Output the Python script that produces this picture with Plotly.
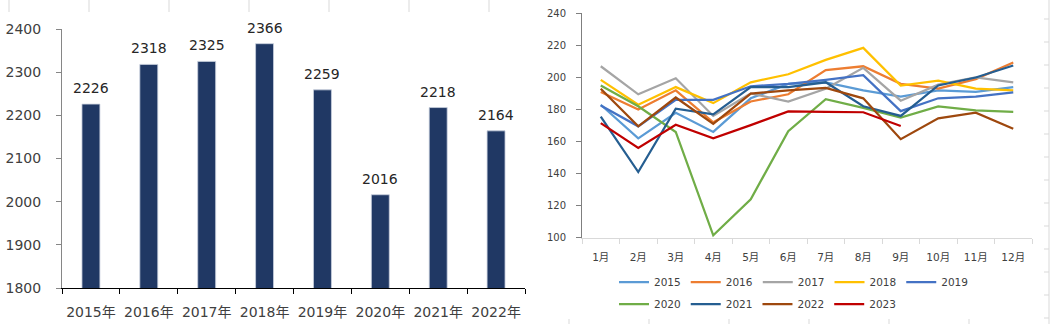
import plotly.graph_objects as go

W, H = 1051, 324

# ---------------- data ----------------
years = ["2015年", "2016年", "2017年", "2018年", "2019年", "2020年", "2021年", "2022年"]
annual = [2226, 2318, 2325, 2366, 2259, 2016, 2218, 2164]

months = ["1月", "2月", "3月", "4月", "5月", "6月", "7月", "8月", "9月", "10月", "11月", "12月"]
m2015 = [183, 162, 178, 166, 187, 196, 197, 192, 188, 192, 191, 194]
m2016 = [191, 180, 192, 172, 185, 189.5, 204.6, 207, 196, 193, 199, 209.4]
m2017 = [207, 189.5, 199.5, 176, 190, 185, 193, 206, 185.5, 195.5, 200, 197]
m2018 = [198.5, 183, 194, 184, 197, 202, 211, 218.5, 195, 198, 193, 192]
m2019 = [182.5, 169.5, 186, 186, 194.5, 196, 198.5, 201.5, 179, 187, 188, 190.7]
m2020 = [195, 182, 166, 101.5, 124, 166.5, 186.5, 181, 175, 182, 179.5, 178.6]
m2021 = [175.5, 141, 180.5, 177, 194, 194, 197, 182, 176, 195, 200, 207.5]
m2022 = [193, 169.5, 187.5, 171, 190, 192, 193.5, 187, 161.5, 174.5, 178, 168]
m2023 = [171.5, 156, 170.5, 162, 170.3, 178.8, 178.6, 178.3, 169.7]

series_names = ["2015", "2016", "2017", "2018", "2019", "2020", "2021", "2022", "2023"]
series_values = [m2015, m2016, m2017, m2018, m2019, m2020, m2021, m2022, m2023]
series_colors = ["#5B9BD5", "#ED7D31", "#A5A5A5", "#FFC000", "#4472C4",
                 "#70AD47", "#255E91", "#9E480E", "#C00000"]
series_legend = ["legend"] * 5 + ["legend2"] * 4

FONT = "DejaVu Sans, Noto Sans CJK SC, sans-serif"
TICK_COL = "#404040"


def px_x(p):
    return p / W


def px_y(p):
    return 1 - p / H


fig = go.Figure()

# ---------------- left: bars ----------------
fig.add_trace(go.Bar(
    x=years, y=annual, xaxis="x", yaxis="y",
    marker=dict(color="#203864", line=dict(color="#C8CFDD", width=0.8)),
    width=0.31, showlegend=False, hoverinfo="x+y",
))

annotations = []
for cat, val in zip(years, annual):
    annotations.append(dict(
        x=cat, y=val, xref="x", yref="y", text=str(val), showarrow=False,
        yanchor="bottom", yshift=6,
        font=dict(family=FONT, size=14, color="#262626"),
    ))

# ---------------- right: lines ----------------
for name, vals, col, lg in zip(series_names, series_values, series_colors, series_legend):
    fig.add_trace(go.Scatter(
        x=months[:len(vals)], y=vals, name=name, mode="lines",
        line=dict(color=col, width=2.25), xaxis="x2", yaxis="y2", legend=lg,
    ))

# ---------------- faint sheet grid artefacts ----------------
shapes = []
grid_col = "#D9D9D9"
cell_x = [9 + 80 * k for k in range(14)]
for xx in cell_x:
    if xx < 520:
        shapes.append(dict(type="line", xref="paper", yref="paper",
                           x0=px_x(xx), x1=px_x(xx), y0=px_y(0), y1=px_y(12),
                           line=dict(color=grid_col, width=1)))
    elif xx < 1040:
        shapes.append(dict(type="line", xref="paper", yref="paper",
                           x0=px_x(xx), x1=px_x(xx), y0=px_y(319), y1=px_y(324),
                           line=dict(color=grid_col, width=1)))
    else:
        shapes.append(dict(type="line", xref="paper", yref="paper",
                           x0=px_x(xx), x1=px_x(xx), y0=0, y1=1,
                           line=dict(color=grid_col, width=1)))
row_y = [19 + 23 * k for k in range(14)]
for yy in row_y:
    shapes.append(dict(type="line", xref="paper", yref="paper",
                       x0=px_x(1044), x1=px_x(1049), y0=px_y(yy), y1=px_y(yy),
                       line=dict(color=grid_col, width=1)))

fig.update_layout(
    width=W, height=H,
    margin=dict(l=0, r=0, t=0, b=0, autoexpand=False),
    paper_bgcolor="white", plot_bgcolor="white",
    font=dict(family=FONT, color=TICK_COL),
    bargap=0.69,
    xaxis=dict(
        domain=[px_x(62), px_x(525)], anchor="y", type="category",
        showline=True, linecolor="#000000", linewidth=1,
        ticks="outside", tickson="boundaries", ticklen=5, tickcolor="#000000",
        tickfont=dict(family=FONT, size=14, color=TICK_COL), tickangle=0,
        showgrid=False, ticklabelstandoff=11, fixedrange=True, automargin=False,
    ),
    yaxis=dict(
        domain=[px_y(288), px_y(29)], anchor="x",
        range=[1800, 2400], dtick=100, tick0=1800,
        showline=True, linecolor="#868686", linewidth=1,
        ticks="outside", ticklen=5, tickcolor="#868686",
        tickfont=dict(family=FONT, size=14, color=TICK_COL),
        showgrid=False, zeroline=False, ticklabelstandoff=12, fixedrange=True,
        automargin=False,
    ),
    xaxis2=dict(
        domain=[px_x(582), px_x(1032)], anchor="y2", type="category",
        categoryorder="array", categoryarray=months, range=[-0.5, 11.5],
        showline=True, linecolor="#D9D9D9", linewidth=1,
        ticks="outside", tickson="boundaries", ticklen=5, tickcolor="#D9D9D9",
        tickfont=dict(family=FONT, size=10.5, color=TICK_COL), tickangle=0,
        showgrid=False, ticklabelstandoff=10, fixedrange=True, automargin=False,
    ),
    yaxis2=dict(
        domain=[px_y(237.7), px_y(13.4)], anchor="x2",
        range=[100, 240], dtick=20, tick0=100,
        showline=True, linecolor="#7F7F7F", linewidth=1,
        ticks="outside", ticklen=5, tickcolor="#7F7F7F",
        tickfont=dict(family=FONT, size=10, color=TICK_COL),
        showgrid=False, zeroline=False, ticklabelstandoff=8, fixedrange=True,
        automargin=False,
    ),
    legend=dict(
        orientation="h", x=px_x(614), xanchor="left", y=px_y(282), yanchor="middle",
        font=dict(family=FONT, size=10.5, color=TICK_COL),
        bgcolor="rgba(0,0,0,0)", itemclick=False, itemdoubleclick=False,
    ),
    legend2=dict(
        orientation="h", x=px_x(614), xanchor="left", y=px_y(304), yanchor="middle",
        font=dict(family=FONT, size=10.5, color=TICK_COL),
        bgcolor="rgba(0,0,0,0)", itemclick=False, itemdoubleclick=False,
    ),
    annotations=annotations,
    shapes=shapes,
)

fig.write_html("out.html")
